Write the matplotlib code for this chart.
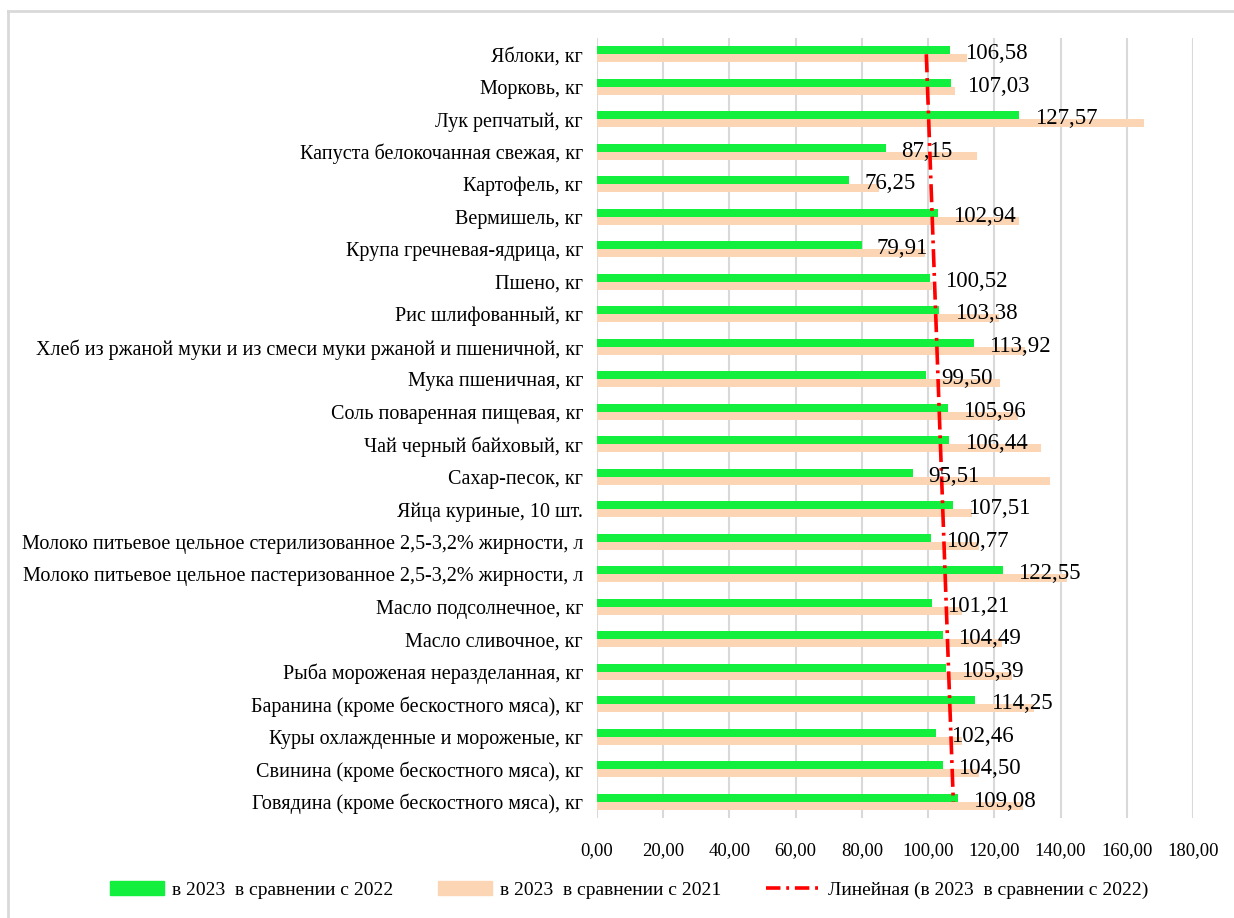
"""
    Horizontal bar chart: price indices of food products, 2023 vs 2022 and 2021
"""
import matplotlib
matplotlib.use('Agg')
import matplotlib.pyplot as plt
from matplotlib.lines import Line2D
from matplotlib.patches import Patch
import numpy as np

plt.rcParams['font.family'] = ['Liberation Serif', 'DejaVu Serif']

products = [
    'Яблоки, кг',
    'Морковь, кг',
    'Лук репчатый, кг',
    'Капуста белокочанная свежая, кг',
    'Картофель, кг',
    'Вермишель, кг',
    'Крупа гречневая-ядрица, кг',
    'Пшено, кг',
    'Рис шлифованный, кг',
    'Хлеб из ржаной муки и из смеси муки ржаной и пшеничной, кг',
    'Мука пшеничная, кг',
    'Соль поваренная пищевая, кг',
    'Чай черный байховый, кг',
    'Сахар-песок, кг',
    'Яйца куриные, 10 шт.',
    'Молоко питьевое цельное стерилизованное 2,5-3,2% жирности, л',
    'Молоко питьевое цельное пастеризованное 2,5-3,2% жирности, л',
    'Масло подсолнечное, кг',
    'Масло сливочное, кг',
    'Рыба мороженая неразделанная, кг',
    'Баранина (кроме бескостного мяса), кг',
    'Куры охлажденные и мороженые, кг',
    'Свинина (кроме бескостного мяса), кг',
    'Говядина (кроме бескостного мяса), кг',
]

vs_2022 = [106.58, 107.03, 127.57, 87.15, 76.25, 102.94, 79.91, 100.52,
           103.38, 113.92, 99.50, 105.96, 106.44, 95.51, 107.51, 100.77,
           122.55, 101.21, 104.49, 105.39, 114.25, 102.46, 104.50, 109.08]

vs_2021 = [111.7, 108.0, 165.1, 114.9, 85.2, 127.4, 99.1, 101.1,
           121.3, 129.3, 121.8, 127.0, 134.0, 136.8, 113.2, 115.5,
           142.0, 110.3, 122.2, 125.3, 131.9, 110.3, 115.5, 128.8]

x_ticks = [0, 20, 40, 60, 80, 100, 120, 140, 160, 180]

GREEN = '#12ef3c'
PEACH = '#fcd5b5'
GRID = '#d9d9d9'
TREND_DASH = (5, 1.6, 0.8, 1.6)


def fmt(v):
    return f'{v:.2f}'.replace('.', ',')


def plot():
    W, H = 1234, 918
    fig = plt.figure(figsize=(W / 100, H / 100), dpi=100)
    ax = fig.add_axes([597 / W, 1 - 818 / H, (1193 - 597) / W, (818 - 38) / H])

    n = len(products)
    y = np.arange(n)[::-1].astype(float)   # first product on top
    h = 0.25

    ax.barh(y + h / 2, vs_2022, height=h, color=GREEN, zorder=3)
    ax.barh(y - h / 2, vs_2021, height=h, color=PEACH, zorder=2)

    # linear trend of the 2022 series over category index
    idx = np.arange(1, n + 1)
    k, b = np.polyfit(idx, vs_2022, 1)
    trend = k * idx + b
    ax.plot(trend, y, color='red', lw=2.6, dashes=TREND_DASH, zorder=4)

    for yy, v in zip(y, vs_2022):
        ax.annotate(fmt(v), (v, yy + 0.02), xytext=(11, 0), textcoords='offset points',
                    ha='left', va='center', fontsize=16.5, zorder=5)

    ax.set_xlim(0, 180)
    ax.set_ylim(-0.5, n - 0.5)
    ax.set_xticks(x_ticks)
    ax.set_xticklabels([fmt(t) for t in x_ticks], fontsize=13.5)
    ax.set_yticks(y)
    ax.set_yticklabels(products, fontsize=14.5)
    ax.tick_params(axis='both', length=0)
    ax.tick_params(axis='x', pad=17)
    ax.tick_params(axis='y', pad=10)
    ax.grid(axis='x', color=GRID, lw=1.5, zorder=0)
    for s in ax.spines.values():
        s.set_visible(False)

    handles = [
        Patch(color=GREEN, label='в 2023  в сравнении с 2022'),
        Patch(color=PEACH, label='в 2023  в сравнении с 2021'),
        Line2D([], [], color='red', lw=2.6, dashes=(4, 1.6, 0.8, 1.6),
               label='Линейная (в 2023  в сравнении с 2022)'),
    ]
    fig.legend(handles=handles, loc='center', bbox_to_anchor=(629 / W, 1 - 890 / H),
               ncol=3, frameon=False, fontsize=14, handlelength=2.8,
               handleheight=0.75, handletextpad=0.4, columnspacing=2.3)

    # chart area border (left and top edges)
    fig.add_artist(Line2D([8 / W, 8 / W], [0, 1 - 11 / H], color=GRID, lw=2,
                          transform=fig.transFigure))
    fig.add_artist(Line2D([8 / W, 1], [1 - 11 / H, 1 - 11 / H], color=GRID, lw=2,
                          transform=fig.transFigure))

    fig.savefig('out.png', dpi=100)
    plt.close(fig)


if __name__ == '__main__':
    plot()
